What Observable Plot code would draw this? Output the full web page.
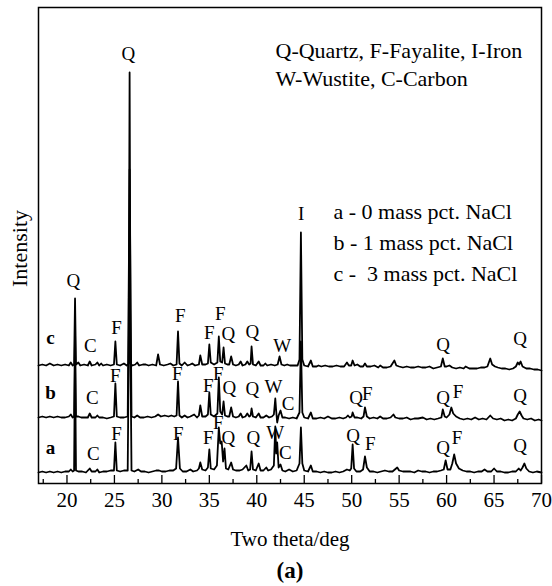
<!DOCTYPE html>
<html><head><meta charset="utf-8">
<script src="https://cdn.jsdelivr.net/npm/d3@7"></script>
<script src="https://cdn.jsdelivr.net/npm/@observablehq/plot@0.6"></script>
<style>
body{margin:0;background:#fff}
svg{font-family:"Liberation Serif","Times New Roman",serif}
</style>
</head><body><div id="chart"></div>
<script>
// ---- data (two theta in degrees, intensity in arbitrary units above each pattern's own baseline)
const seriesNames = ["a", "b", "c"];
const seriesOffsets = [10, 64, 117];

const patternA = [[17,1],[17.4,2],[17.8,1],[18.2,2],[18.6,1],[19,2],[19.4,1],[19.8,2],[20.2,2],[20.4,4],[20.6,2],[20.75,3],[20.85,120],[20.95,3],[21.2,2],[21.6,2],[22,1],[22.4,5],[22.6,2],[23,2],[23.2,4],[23.4,1],[23.8,2],[24.2,2],[24.6,3],[24.95,3],[25.1,31],[25.25,3],[25.6,2],[26,3],[26.4,3],[26.6,220],[26.8,3],[27.1,2],[27.5,4],[27.8,2],[28.2,2],[28.6,1],[29,2],[29.4,3],[29.7,3],[30,2],[30.4,2],[30.8,3],[31.2,3],[31.5,5],[31.7,36],[31.9,5],[32.2,2],[32.6,2],[33,4],[33.3,2],[33.7,3],[33.9,5],[34.05,11],[34.25,4],[34.6,3],[34.85,6],[35,24],[35.15,5],[35.5,4],[35.8,8],[36,46],[36.15,30],[36.3,32],[36.45,12],[36.6,25],[36.75,5],[37,4],[37.3,11],[37.5,4],[37.8,3],[38.2,3],[38.5,4],[38.9,8],[39.1,3],[39.3,4],[39.45,22],[39.6,4],[39.9,3],[40.2,10],[40.4,3],[40.7,3],[41,6],[41.2,3],[41.5,4],[41.8,8],[41.95,47],[42.05,20],[42.15,31],[42.3,6],[42.5,9],[42.7,3],[43,2],[43.4,4],[43.8,2],[44.2,3],[44.5,10],[44.65,46],[44.8,10],[45,3],[45.4,2],[45.7,8],[45.9,2],[46.3,2],[46.7,1],[47.1,2],[47.5,1],[47.9,1],[48.3,2],[48.7,1],[49.1,2],[49.5,4],[49.8,3],[49.95,5],[50.1,29],[50.25,5],[50.5,2],[50.9,2],[51.2,4],[51.4,17],[51.6,6],[51.9,2],[52.3,2],[52.7,1],[53.1,2],[53.5,3],[53.9,2],[54.3,2],[54.8,6],[55,3],[55.4,2],[55.8,2],[56.2,2],[56.6,1],[57,3],[57.4,2],[57.8,2],[58.2,1],[58.6,2],[59,2],[59.4,3],[59.7,4],[59.9,13],[60.1,4],[60.4,4],[60.6,10],[60.8,19],[61,10],[61.3,5],[61.7,3],[62.1,2],[62.5,2],[62.9,1],[63.3,2],[63.7,2],[64,4],[64.3,2],[64.7,2],[65,5],[65.3,2],[65.7,2],[66.1,1],[66.5,1],[66.9,2],[67.3,2],[67.6,5],[67.8,3],[68,6],[68.2,10],[68.4,5],[68.7,2],[69.1,1],[69.5,2],[70,1]];

const patternB = [[17,2],[17.4,3],[17.8,2],[18.2,3],[18.6,2],[19,3],[19.4,2],[19.8,2],[20.2,3],[20.4,5],[20.6,2],[20.75,3],[20.85,90],[20.95,3],[21.2,3],[21.5,2],[21.9,2],[22.2,2],[22.4,6],[22.6,2],[23,2],[23.2,4],[23.4,2],[23.8,2],[24.2,1],[24.6,2],[24.95,3],[25.1,36],[25.25,3],[25.6,2],[26,2],[26.4,3],[26.6,250],[26.8,3],[27.1,2],[27.4,4],[27.7,2],[28.1,2],[28.5,3],[28.9,2],[29.3,3],[29.6,5],[29.9,3],[30.3,4],[30.7,3],[31,4],[31.3,3],[31.55,4],[31.7,38],[31.85,4],[32.1,2],[32.4,4],[32.7,2],[33,3],[33.4,5],[33.7,2],[33.9,4],[34.05,14],[34.25,3],[34.6,3],[34.85,5],[35,27],[35.15,5],[35.5,3],[35.85,6],[36,42],[36.15,8],[36.35,5],[36.5,18],[36.65,4],[36.9,3],[37.1,3],[37.3,12],[37.5,3],[37.8,2],[38.1,3],[38.3,6],[38.5,2],[38.8,3],[39,6],[39.2,3],[39.35,4],[39.45,11],[39.6,3],[39.9,2],[40.2,6],[40.4,2],[40.7,2],[41,4],[41.3,2],[41.6,3],[41.8,5],[41.95,21],[42.05,8],[42.15,-3],[42.3,4],[42.5,9],[42.7,2],[43,2],[43.4,1],[43.8,2],[44.2,1],[44.5,7],[44.65,78],[44.8,7],[45,2],[45.4,1],[45.7,7],[45.9,1],[46.3,1],[46.7,2],[47.1,1],[47.5,3],[47.9,1],[48.3,1],[48.7,2],[49.1,1],[49.4,2],[49.6,4],[49.8,2],[50,3],[50.1,7],[50.3,2],[50.6,2],[51,1],[51.25,3],[51.4,12],[51.6,3],[51.9,1],[52.3,2],[52.7,1],[53,3],[53.3,1],[53.7,1],[54.1,2],[54.4,5],[54.6,2],[55,1],[55.4,1],[55.8,2],[56.2,0],[56.6,1],[57,1],[57.5,2],[57.9,0],[58.3,1],[58.7,0],[59.1,1],[59.45,2],[59.6,10],[59.8,3],[60,2],[60.3,5],[60.5,12],[60.7,6],[61,3],[61.4,1],[61.8,0],[62.2,1],[62.6,0],[63,2],[63.4,0],[63.8,1],[64.2,0],[64.6,4],[64.9,1],[65.3,0],[65.7,1],[66.1,-1],[66.5,0],[66.9,-1],[67.3,1],[67.5,5],[67.7,8],[67.9,4],[68.1,1],[68.5,0],[68.9,1],[69.3,-1],[69.7,0],[70,-1]];

const patternC = [[17,1],[17.4,2],[17.8,1],[18.2,3],[18.6,1],[19,2],[19.4,1],[19.8,2],[20.2,1],[20.4,4],[20.6,1],[20.75,2],[20.85,68],[20.95,2],[21.2,4],[21.4,1],[21.8,2],[22.2,1],[22.4,5],[22.6,1],[23,2],[23.2,4],[23.4,1],[23.6,3],[23.8,1],[24.2,2],[24.6,1],[24.95,2],[25.1,25],[25.25,2],[25.6,1],[26,3],[26.3,1],[26.5,3],[26.6,294],[26.7,3],[26.9,1],[27.2,2],[27.4,4],[27.6,1],[28,2],[28.3,2],[28.6,1],[29,2],[29.4,1],[29.6,12],[29.8,2],[30.2,1],[30.6,2],[30.9,3],[31.2,1],[31.55,2],[31.7,35],[31.85,3],[32.1,1],[32.4,4],[32.7,1],[33,2],[33.2,3],[33.5,1],[33.9,2],[34.05,11],[34.25,2],[34.6,2],[34.85,3],[35,22],[35.15,4],[35.5,2],[35.85,4],[36,30],[36.15,5],[36.35,4],[36.5,19],[36.65,3],[36.9,2],[37.1,2],[37.3,10],[37.5,2],[37.8,1],[38.1,2],[38.3,5],[38.5,1],[38.8,2],[39,5],[39.2,2],[39.35,3],[39.45,20],[39.6,2],[39.9,1],[40.2,5],[40.4,1],[40.7,1],[40.9,3],[41.1,1],[41.5,2],[41.9,1],[42.2,2],[42.4,10],[42.6,2],[42.9,1],[43.2,2],[43.5,1],[43.9,1],[44.3,1],[44.5,7],[44.65,134],[44.8,7],[45,1],[45.4,0],[45.7,6],[45.9,0],[46.3,0],[46.5,1],[46.8,0],[47.2,1],[47.6,0],[48,0],[48.4,1],[48.8,0],[49.2,0],[49.5,4],[49.7,1],[49.95,1],[50.1,6],[50.3,1],[50.6,2],[50.9,0],[51.2,0],[51.4,3],[51.6,0],[52,0],[52.4,1],[52.8,-1],[53,1],[53.3,-1],[53.7,-1],[54.1,0],[54.5,6],[54.7,1],[55,0],[55.4,-1],[55.8,0],[56.2,-1],[56.6,-1],[57,0],[57.4,-1],[57.8,-1],[58.2,0],[58.6,-2],[59,-1],[59.4,0],[59.6,8],[59.8,0],[60,0],[60.3,1],[60.6,-1],[61,-2],[61.4,-1],[61.8,-2],[62,0],[62.4,-2],[62.8,-2],[63.2,-2],[63.6,-1],[64,-1],[64.3,0],[64.6,8],[64.8,2],[65.1,0],[65.4,-1],[65.8,-2],[66.2,-2],[66.6,-3],[67,-2],[67.3,0],[67.5,4],[67.65,2],[67.8,5],[68,0],[68.4,-2],[68.8,-2],[69.2,-3],[69.6,-3],[70,-4]];

const patterns = [patternA, patternB, patternC];

// peak annotations: [two theta, intensity level of the letter, phase letter]
const peakLabels = [
  [26.47,430,"Q"],
  [20.68,203,"Q"],[22.47,138,"C"],[25.21,156,"F"],[31.95,168,"F"],[35.0,151,"F"],[36.16,170,"F"],[37.0,150,"Q"],[39.53,152,"Q"],[42.68,138,"W"],[44.68,270,"I"],[59.63,139,"Q"],[67.74,145,"Q"],
  [22.68,86,"C"],[25.1,108,"F"],[31.63,110,"F"],[34.9,98,"F"],[35.95,110,"F"],[37.1,96,"Q"],[39.53,95,"Q"],[41.75,97,"W"],[43.3,80,"C"],[50.47,86,"Q"],[51.63,90,"F"],[59.63,86,"Q"],[61.2,92,"F"],[67.74,88,"Q"],
  [22.79,30,"C"],[25.21,50,"F"],[31.74,50,"F"],[34.9,46,"F"],[35.95,61,"F"],[37.0,46,"Q"],[39.63,46,"Q"],[41.95,51,"W"],[43.0,31,"C"],[50.16,48,"Q"],[51.95,40,"F"],[59.63,36,"Q"],[61.1,46,"F"],[67.74,38,"Q"]
];
// pattern letters: [two theta, intensity, letter]
const patternLetters = [[18.26,36,"a"],[18.26,91,"b"],[18.26,146,"c"]];

const phaseLegend = ["Q-Quartz, F-Fayalite, I-Iron", "W-Wustite, C-Carbon"];
const sampleLegend = ["a - 0 mass pct. NaCl", "b - 1 mass pct. NaCl", "c -\u00a0 3 mass pct. NaCl"];
const xTicks = [20, 25, 30, 35, 40, 45, 50, 55, 60, 65, 70];
const xMinorTicks = [17.5, 22.5, 27.5, 32.5, 37.5, 42.5, 47.5, 52.5, 57.5, 62.5, 67.5];
const xLabel = "Two theta/deg";
const yLabel = "Intensity";
const panelLabel = "(a)";

// ---- table for the line mark
const rows = patterns.flatMap((pts, i) =>
  pts.map(([x, v]) => ({x, y: v + seriesOffsets[i], s: seriesNames[i]})));

const font = "Liberation Serif";
const chart = Plot.plot({
  width: 552,
  height: 586,
  marginLeft: 38,
  marginRight: 11,
  marginTop: 7,
  marginBottom: 103,
  style: {fontFamily: font, background: "#fff", color: "#000"},
  x: {domain: [17, 70]},
  y: {domain: [0, 476]},
  marks: [
    Plot.line(rows, {x: "x", y: "y", z: "s", stroke: "#000", strokeWidth: 1.8, strokeLinejoin: "round"}),
    Plot.ruleX(xTicks, {y1: 0, y2: 8, stroke: "#000", strokeWidth: 1.3}),
    Plot.ruleX(xMinorTicks, {y1: 0, y2: 4, stroke: "#000", strokeWidth: 1.3}),
    Plot.axisX(xTicks, {tickSize: 0, tickPadding: 9, fontSize: 21, label: null, fontFamily: font}),
    Plot.axisY({ticks: [], label: null}),
    Plot.frame({stroke: "#000", strokeWidth: 1.5}),
    Plot.text(peakLabels, {x: d => d[0], y: d => d[1], text: d => d[2], fontSize: 19, fill: "#000"}),
    Plot.text(patternLetters, {x: d => d[0], y: d => d[1], text: d => d[2], fontSize: 19, fontWeight: "bold", fill: "#000"}),
    Plot.text([phaseLegend.join("\n")], {frameAnchor: "top-left", textAnchor: "start", lineAnchor: "top", dx: 237, dy: 30, fontSize: 22, lineHeight: 1.3, fill: "#000"}),
    Plot.text([sampleLegend.join("\n")], {frameAnchor: "top-left", textAnchor: "start", lineAnchor: "top", dx: 295, dy: 190, fontSize: 22, lineHeight: 1.4, fill: "#000"}),
    Plot.text([yLabel], {frameAnchor: "left", textAnchor: "middle", lineAnchor: "middle", rotate: -90, dx: -19, dy: 3, fontSize: 22, fill: "#000"}),
    Plot.text([xLabel], {frameAnchor: "bottom", textAnchor: "middle", lineAnchor: "middle", dy: 56, fontSize: 21, fill: "#000"}),
    Plot.text([panelLabel], {frameAnchor: "bottom", textAnchor: "middle", lineAnchor: "middle", dy: 87, fontSize: 23, fontWeight: "bold", fill: "#000"})
  ]
});
document.getElementById("chart").appendChild(chart);
</script>
</body></html>
